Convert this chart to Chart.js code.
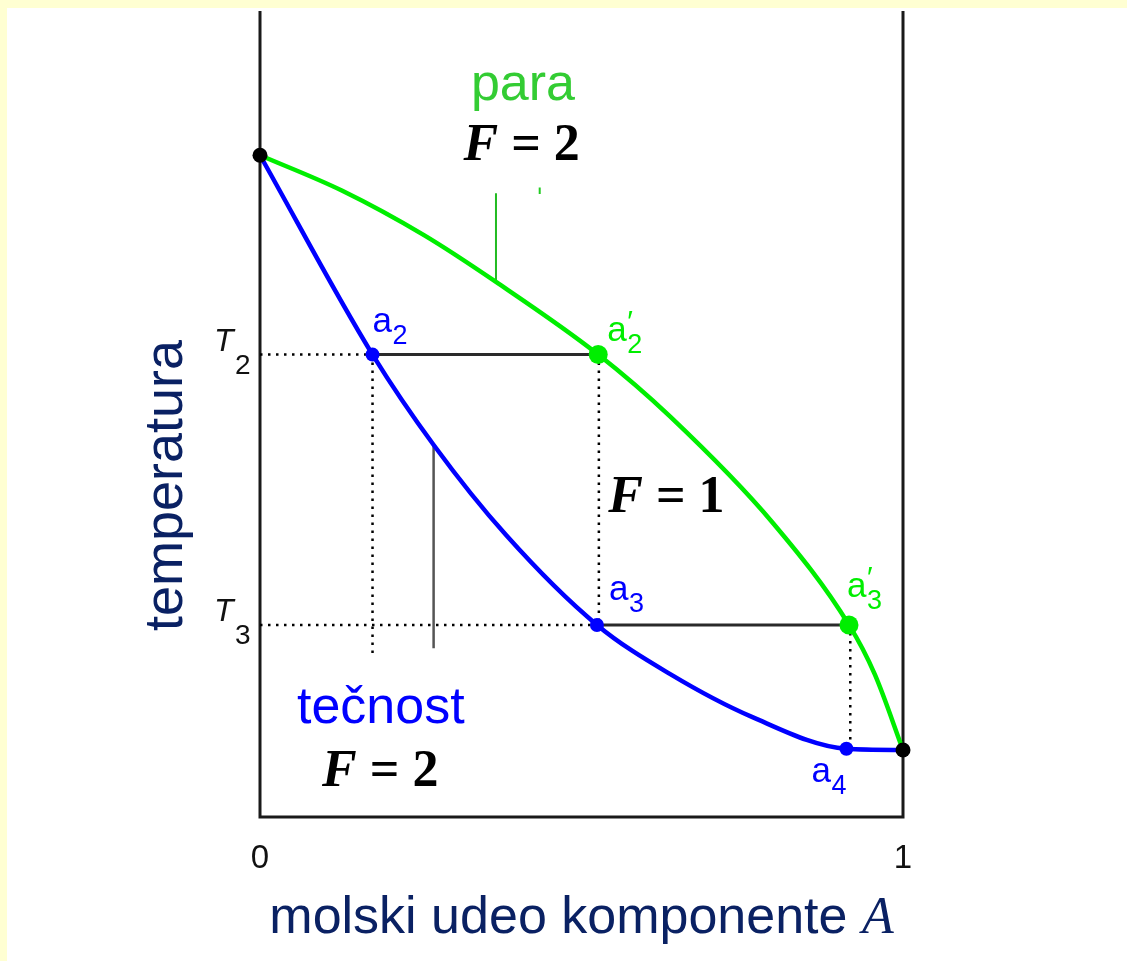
<!DOCTYPE html>
<html>
<head>
<meta charset="utf-8">
<script src="https://cdn.jsdelivr.net/npm/chart.js@4.4.1/dist/chart.umd.min.js"></script>
<style>
  html, body { margin: 0; padding: 0; background: #fff; }
  #wrap { width: 1127px; height: 961px; position: relative; }
</style>
</head>
<body>
<div id="wrap"><canvas id="phaseChart"></canvas></div>
<script>
// liquid (boiling) curve and vapour (dew) curve, mole fraction of A vs temperature
const liquidX = [0, 0.175, 0.271, 0.383, 0.524, 0.638, 0.765, 0.912, 1];
const liquidT = [82.0, 57.3, 46.0, 34.9, 23.8, 17.7, 12.4, 8.45, 8.3];
const vaporX = [0, 0.128, 0.255, 0.367, 0.526, 0.638, 0.798, 0.916, 0.956, 1];
const vaporT = [82.0, 77.6, 72.1, 66.3, 57.3, 49.6, 36.4, 23.8, 17.7, 8.3];

// temperatures T2, T3 (tick labels on the y side)
const tempTicks = [57.3, 23.8];
const tempLabels = ['2', '3'];

// labelled points
const liquidPtX = [0.175, 0.524, 0.912];
const liquidPtT = [57.3, 23.8, 8.45];
const liquidPtLabels = ['2', '3', '4'];
const vaporPtX = [0.526, 0.916];
const vaporPtT = [57.3, 23.8];
const vaporPtLabels = ['2', '3'];
const pureX = [0, 1];
const pureT = [82.0, 8.3];

// x tick labels
const xTicks = [0, 1];
const xTickLabels = ['0', '1'];

// guide lines: [x1, y1, x2, y2]
const tieLines = [[0.175, 57.3, 0.526, 57.3], [0.524, 23.8, 0.916, 23.8]];
const dottedLines = [
  [0, 57.3, 0.175, 57.3],
  [0.175, 57.3, 0.175, 19.7],
  [0.527, 57.3, 0.527, 23.8],
  [0, 23.8, 0.524, 23.8],
  [0.918, 23.8, 0.918, 8.45]
];
const isopleth = [0.270, 46.0, 0.270, 20.9];
const leaderLine = [0.367, 77.3, 0.367, 66.3];
const leaderTick = [0.435, 78.0, 0.435, 77.2];

const xy = (xs, ys) => xs.map((x, i) => ({ x: x, y: ys[i] }));
const seg = s => [{ x: s[0], y: s[1] }, { x: s[2], y: s[3] }];

const SANS = "'Liberation Sans', Arial, sans-serif";
const SERIF = "'Liberation Serif', 'Times New Roman', serif";
const BLUE = '#0000ff';
const GREEN = '#00ee00';

const datasets = [];
dottedLines.forEach(s => datasets.push({
  data: seg(s), showLine: true, borderColor: '#000', borderWidth: 2.5,
  borderDash: [2.5, 5.5], pointRadius: 0, order: 10
}));
tieLines.forEach(s => datasets.push({
  data: seg(s), showLine: true, borderColor: '#2a2a2a', borderWidth: 3, pointRadius: 0, order: 9
}));
datasets.push({ data: seg(isopleth), showLine: true, borderColor: '#555', borderWidth: 2.5, pointRadius: 0, order: 9 });
datasets.push({ data: seg(leaderLine), showLine: true, borderColor: '#22bb22', borderWidth: 2, pointRadius: 0, order: 9 });
datasets.push({ data: seg(leaderTick), showLine: true, borderColor: '#22cc22', borderWidth: 2, pointRadius: 0, order: 9 });

datasets.push({
  label: 'para', data: xy(vaporX, vaporT), showLine: true, borderColor: GREEN,
  borderWidth: 4.5, pointRadius: 0, cubicInterpolationMode: 'monotone', order: 5
});
datasets.push({
  label: 'tecnost', data: xy(liquidX, liquidT), showLine: true, borderColor: BLUE,
  borderWidth: 4.5, pointRadius: 0, cubicInterpolationMode: 'monotone', order: 4
});
datasets.push({
  data: xy(vaporPtX, vaporPtT), showLine: false, pointRadius: 9.5,
  pointBackgroundColor: GREEN, pointBorderWidth: 0, order: 2
});
datasets.push({
  data: xy(liquidPtX, liquidPtT), showLine: false, pointRadius: 7,
  pointBackgroundColor: BLUE, pointBorderWidth: 0, order: 2
});
datasets.push({
  data: xy(pureX, pureT), showLine: false, pointRadius: 7.5,
  pointBackgroundColor: '#000', pointBorderWidth: 0, order: 1
});

function txt(ctx, s, x, y, font, color, align) {
  ctx.font = font;
  ctx.fillStyle = color;
  ctx.textAlign = align || 'left';
  ctx.textBaseline = 'alphabetic';
  ctx.fillText(s, x, y);
}

// "F = n" with italic F, centered at cx
function phaseRule(ctx, n, cx, y) {
  const f1 = 'bold italic 52px ' + SERIF;
  const f2 = 'bold 52px ' + SERIF;
  ctx.font = f1; const w1 = ctx.measureText('F').width;
  ctx.font = f2; const w2 = ctx.measureText(' = ' + n).width;
  const x0 = cx - (w1 + w2) / 2;
  txt(ctx, 'F', x0, y, f1, '#000');
  txt(ctx, ' = ' + n, x0 + w1, y, f2, '#000');
}

// point label "a" + subscript (+ prime)
function pointLabel(ctx, x, y, sub, color, prime) {
  txt(ctx, 'a', x, y, '35px ' + SANS, color);
  txt(ctx, sub, x + 20, y + 12, '27px ' + SANS, color);
  if (prime) txt(ctx, '\u2032', x + 20, y - 10, '30px ' + SANS, color);
}

const diagramPlugin = {
  id: 'diagram',
  beforeDraw(chart) {
    const ctx = chart.ctx;
    ctx.save();
    ctx.fillStyle = '#ffffff';
    ctx.fillRect(0, 0, chart.width, chart.height);
    ctx.fillStyle = '#ffffd2';
    ctx.fillRect(0, 0, chart.width, 8);
    ctx.fillRect(0, 0, 7, chart.height);
    ctx.restore();
  },
  beforeDatasetsDraw(chart) {
    const ctx = chart.ctx;
    const a = chart.chartArea;
    ctx.save();
    ctx.strokeStyle = '#1a1a1a';
    ctx.lineWidth = 3;
    ctx.beginPath();
    ctx.moveTo(a.left, a.top + 1);
    ctx.lineTo(a.left, a.bottom);
    ctx.lineTo(a.right, a.bottom);
    ctx.lineTo(a.right, a.top + 1);
    ctx.stroke();
    ctx.restore();
  },
  afterDatasetsDraw(chart) {
    const ctx = chart.ctx;
    const xs = chart.scales.x, ys = chart.scales.y;
    const a = chart.chartArea;
    const px = v => xs.getPixelForValue(v);
    const py = v => ys.getPixelForValue(v);
    ctx.save();

    // x tick labels
    xTicks.forEach((v, i) => txt(ctx, xTickLabels[i], px(v), a.bottom + 51, '33px ' + SANS, '#111', 'center'));

    // T2, T3
    tempTicks.forEach((v, i) => {
      txt(ctx, 'T', a.left - 46, py(v) - 4, 'italic 32px ' + SANS, '#111');
      txt(ctx, tempLabels[i], a.left - 25, py(v) + 19, '28px ' + SANS, '#111');
    });

    // point labels
    const lOff = [[0, -23], [12, -25], [-35, 33]];
    liquidPtX.forEach((v, i) => pointLabel(ctx, px(v) + lOff[i][0], py(liquidPtT[i]) + lOff[i][1], liquidPtLabels[i], BLUE, false));
    const vOff = [[9, -14], [-2, -28]];
    vaporPtX.forEach((v, i) => pointLabel(ctx, px(v) + vOff[i][0], py(vaporPtT[i]) + vOff[i][1], vaporPtLabels[i], GREEN, true));

    // region labels
    txt(ctx, 'para', px(0.409), py(88.85), '52px ' + SANS, '#33cc33', 'center');
    phaseRule(ctx, '2', px(0.407), py(81.4));
    phaseRule(ctx, '1', px(0.632), py(37.8));
    txt(ctx, 'tečnost', px(0.0575), py(11.65), '52px ' + SANS, BLUE);
    phaseRule(ctx, '2', px(0.187), py(3.9));

    // axis titles
    const f1 = '52px ' + SANS, f2 = 'italic 52px ' + SERIF;
    ctx.font = f1; const w1 = ctx.measureText('molski udeo komponente ').width;
    ctx.font = f2; const w2 = ctx.measureText('A').width;
    const x0 = (a.left + a.right) / 2 - (w1 + w2) / 2;
    txt(ctx, 'molski udeo komponente ', x0, a.bottom + 116, f1, '#0a2163');
    txt(ctx, 'A', x0 + w1, a.bottom + 116, f2, '#0a2163');

    ctx.translate(a.left - 78, (a.top + a.bottom) / 2 + 72);
    ctx.rotate(-Math.PI / 2);
    txt(ctx, 'temperatura', 0, 0, '54px ' + SANS, '#0a2163', 'center');
    ctx.restore();
  }
};

new Chart(document.getElementById('phaseChart').getContext('2d'), {
  type: 'scatter',
  data: { datasets: datasets },
  options: {
    responsive: true,
    maintainAspectRatio: false,
    animation: false,
    clip: false,
    layout: { padding: { left: 260, right: 224, top: 10, bottom: 144 } },
    plugins: { legend: { display: false }, tooltip: { enabled: false } },
    scales: {
      x: { type: 'linear', min: 0, max: 1, display: false },
      y: { type: 'linear', min: 0, max: 100, display: false }
    }
  },
  plugins: [diagramPlugin]
});
</script>
</body>
</html>
